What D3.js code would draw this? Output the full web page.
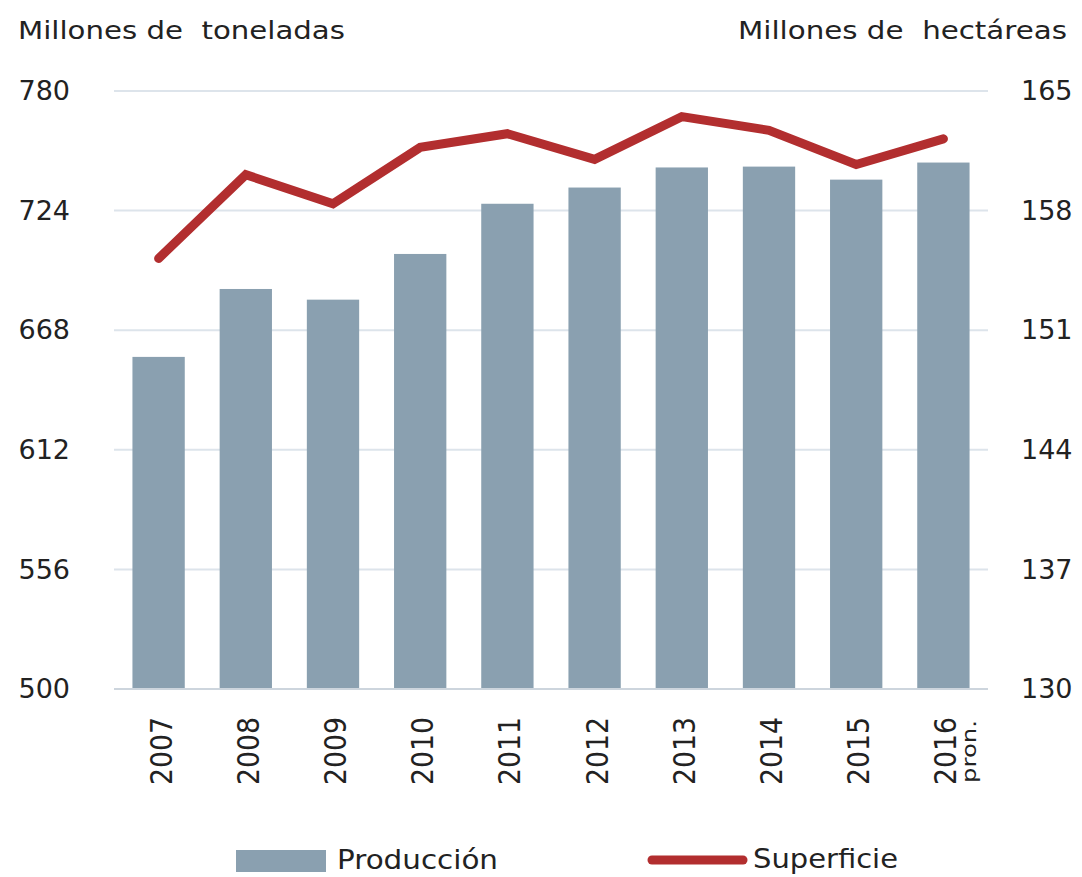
<!DOCTYPE html>
<html>
<head>
<meta charset="utf-8">
<script src="https://cdn.jsdelivr.net/npm/d3@7"></script>
<style>
  body { margin: 0; background: #fff; }
  text { font-family: "DejaVu Sans", Verdana, sans-serif; fill: #222; }
</style>
</head>
<body>
<div id="chart"></div>
<script>
var width = 1082;
var height = 877;

// data
var years = ["2007", "2008", "2009", "2010", "2011", "2012", "2013", "2014", "2015", "2016"];
var produccion = [655.5, 687.3, 682.3, 703.7, 727.2, 734.8, 744.2, 744.6, 738.5, 746.5];
var superficie = [155.2, 160.1, 158.4, 161.7, 162.5, 161.0, 163.5, 162.7, 160.7, 162.2];
var leftTicks = [500, 556, 612, 668, 724, 780];
var rightTicks = [130, 137, 144, 151, 158, 165];

var plot = { left: 114, right: 988, top: 91, bottom: 689 };

var svg = d3.select("#chart")
  .append("svg")
  .attr("width", width)
  .attr("height", height);

var xScale = d3.scaleBand()
  .domain(years)
  .range([115, 987])
  .paddingInner(0.4)
  .paddingOuter(0.2);

var yLeft = d3.scaleLinear()
  .domain([500, 780])
  .range([plot.bottom, plot.top]);

var yRight = d3.scaleLinear()
  .domain([130, 165])
  .range([plot.bottom, plot.top]);

// gridlines
svg.append("g")
  .selectAll("line")
  .data(leftTicks)
  .enter()
  .append("line")
  .attr("x1", plot.left)
  .attr("x2", plot.right)
  .attr("y1", d => yLeft(d))
  .attr("y2", d => yLeft(d))
  .attr("stroke", d => d == 500 ? "#cdd5dd" : "#dde4eb")
  .attr("stroke-width", 2);

// left axis labels
var leftAxis = d3.axisLeft(yLeft).tickValues(leftTicks).tickSize(0).tickPadding(44);
svg.append("g")
  .attr("transform", "translate(" + plot.left + ",0)")
  .call(leftAxis)
  .call(g => g.select(".domain").remove())
  .selectAll("text")
  .style("font-family", "DejaVu Sans")
  .style("font-size", "27px")
  .attr("fill", "#222");

// right axis labels
var rightAxis = d3.axisRight(yRight).tickValues(rightTicks).tickSize(0).tickPadding(33);
svg.append("g")
  .attr("transform", "translate(" + plot.right + ",0)")
  .call(rightAxis)
  .call(g => g.select(".domain").remove())
  .selectAll("text")
  .style("font-family", "DejaVu Sans")
  .style("font-size", "27px")
  .attr("fill", "#222");

// bars
svg.append("g")
  .selectAll("rect")
  .data(produccion)
  .enter()
  .append("rect")
  .attr("x", (d, i) => xScale(years[i]))
  .attr("width", xScale.bandwidth())
  .attr("y", d => yLeft(d))
  .attr("height", d => yLeft(500) - yLeft(d) - 1)
  .attr("fill", "#8aa0b0");

// line
var line = d3.line()
  .x((d, i) => xScale(years[i]) + xScale.bandwidth() / 2)
  .y(d => yRight(d));

svg.append("path")
  .datum(superficie)
  .attr("d", line)
  .attr("fill", "none")
  .attr("stroke", "#b22e2f")
  .attr("stroke-width", 9)
  .attr("stroke-linecap", "round")
  .attr("stroke-linejoin", "miter");

// x labels, rotated
var xl = svg.append("g");
years.forEach(function(y) {
  var cx = xScale(y) + xScale.bandwidth() / 2;
  xl.append("text")
    .text(y)
    .attr("transform", "translate(" + (cx + 13) + ",717) rotate(-90)")
    .attr("text-anchor", "end")
    .attr("textLength", 68)
    .attr("lengthAdjust", "spacingAndGlyphs")
    .style("font-size", "30px");
});
xl.append("text")
  .text("pron.")
  .attr("transform", "translate(" + (xScale("2016") + xScale.bandwidth() / 2 + 33) + ",720) rotate(-90)")
  .attr("text-anchor", "end")
  .attr("textLength", 63)
  .attr("lengthAdjust", "spacingAndGlyphs")
  .style("font-size", "19px");

// axis titles
svg.append("text")
  .text("Millones de\u00a0\u00a0toneladas")
  .attr("x", 18)
  .attr("y", 39)
  .attr("textLength", 327)
  .attr("lengthAdjust", "spacingAndGlyphs")
  .style("font-size", "25px");

svg.append("text")
  .text("Millones de\u00a0\u00a0hectáreas")
  .attr("x", 738)
  .attr("y", 39)
  .attr("textLength", 329)
  .attr("lengthAdjust", "spacingAndGlyphs")
  .style("font-size", "25px");

// legend
svg.append("rect")
  .attr("x", 236)
  .attr("y", 850)
  .attr("width", 90)
  .attr("height", 22)
  .attr("fill", "#8aa0b0");

svg.append("text")
  .text("Producción")
  .attr("x", 337)
  .attr("y", 869)
  .attr("textLength", 161)
  .attr("lengthAdjust", "spacingAndGlyphs")
  .style("font-size", "27px");

svg.append("line")
  .attr("x1", 652)
  .attr("x2", 743)
  .attr("y1", 860)
  .attr("y2", 860)
  .attr("stroke", "#b22e2f")
  .attr("stroke-width", 9)
  .attr("stroke-linecap", "round");

svg.append("text")
  .text("Superficie")
  .attr("x", 753)
  .attr("y", 868)
  .attr("textLength", 145)
  .attr("lengthAdjust", "spacingAndGlyphs")
  .style("font-size", "27px");
</script>
</body>
</html>
